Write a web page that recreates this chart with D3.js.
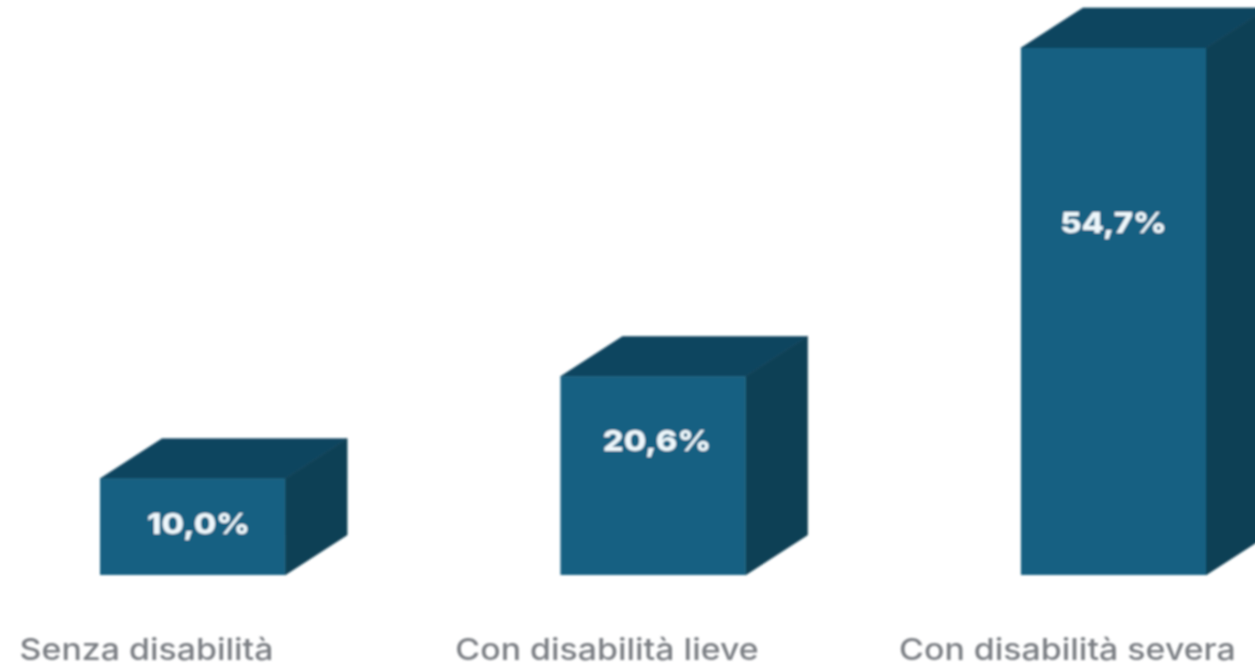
<!DOCTYPE html>
<html>
<head>
<meta charset="utf-8">
<script src="https://cdn.jsdelivr.net/npm/d3@7"></script>
<style>
    html, body { margin: 0; padding: 0; background: #fff; overflow: hidden; }
    svg { display: block; }
</style>
</head>
<body>
<div id="chart"></div>
<script>
const categories = ['Senza disabilità', 'Con disabilità lieve', 'Con disabilità severa'];
const values = [10.0, 20.6, 54.7];
const valueLabels = ['10,0%', '20,6%', '54,7%'];

const width = 1255;
const height = 666;

const svg = d3.select('#chart').append('svg')
    .attr('width', width)
    .attr('height', height);

//  slight blur, the reference is a scaled up image
svg.append('filter').attr('id', 'soft')
    .append('feGaussianBlur').attr('stdDeviation', 0.8);

const x = d3.scaleBand()
    .domain(categories)
    .range([100, 1206])
    .paddingInner(0.598);

const y = d3.scaleLinear()
    .domain([0, 54.7])
    .range([575, 48]);

//  oblique offset of the box depth
const depth = { x: 62, y: -40 };

//  the whole image is stretched sideways, so the text is too
const textStretch = 1.13;

const bars = svg.selectAll('g.bar')
    .data(categories.map((name, i) => ({ name: name, value: values[i], label: valueLabels[i] })))
    .enter().append('g')
    .attr('class', 'bar')
    .attr('filter', 'url(#soft)');

//  top face
bars.append('path')
    .attr('fill', '#11455f')
    .attr('stroke', '#11455f')
    .attr('stroke-width', 0.6)
    .attr('d', d => {
        const x0 = x(d.name), x1 = x0 + x.bandwidth(), top = y(d.value);
        return d3.line()([[x0, top], [x0 + depth.x, top + depth.y], [x1 + depth.x, top + depth.y], [x1, top]]) + 'Z';
    });

//  side face
bars.append('path')
    .attr('fill', '#0e3f54')
    .attr('stroke', '#0e3f54')
    .attr('stroke-width', 0.6)
    .attr('d', d => {
        const x1 = x(d.name) + x.bandwidth(), top = y(d.value), base = y(0);
        return d3.line()([[x1, top], [x1 + depth.x, top + depth.y], [x1 + depth.x, base + depth.y], [x1, base]]) + 'Z';
    });

//  front face
bars.append('rect')
    .attr('fill', '#156082')
    .attr('x', d => x(d.name))
    .attr('y', d => y(d.value))
    .attr('width', x.bandwidth())
    .attr('height', d => y(0) - y(d.value));

//  labels do not sit at a fixed spot inside the bars
const labelDrop = [45, 64, 175];
const labelShift = [6, 4, 0];

bars.append('text')
    .attr('transform', (d, i) => 'translate(' + (x(d.name) + x.bandwidth() / 2 + labelShift[i]) + ',' + (y(d.value) + labelDrop[i]) + ') scale(' + textStretch + ',1)')
    .attr('dy', '0.35em')
    .attr('text-anchor', 'middle')
    .attr('fill', '#eef7fb')
    .style('font-family', 'Inter, "Noto Sans", sans-serif')
    .style('font-size', '29px')
    .style('font-weight', 800)
    .text(d => d.label);

svg.append('g')
    .attr('filter', 'url(#soft)')
    .selectAll('text')
    .data(categories)
    .enter().append('text')
    .attr('transform', d => 'translate(' + (x(d) + x.bandwidth() / 2 - 46) + ',660) scale(' + textStretch + ',1)')
    .attr('text-anchor', 'middle')
    .attr('fill', '#7b7f84')
    .style('font-family', 'Inter, "Noto Sans", sans-serif')
    .style('font-size', '30px')
    .style('font-weight', 500)
    .text(d => d);
</script>
</body>
</html>
